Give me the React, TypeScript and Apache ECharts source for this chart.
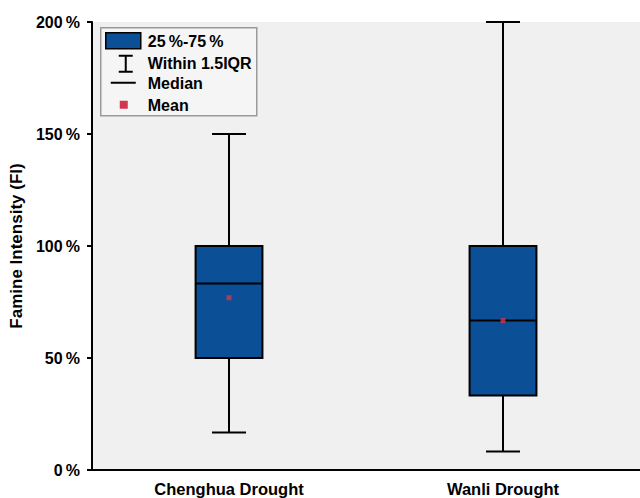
import React, { useEffect, useRef } from "react";
import * as echarts from "echarts";

const categories = ["Chenghua Drought", "Wanli Drought"];
// [low whisker, Q1, median, Q3, high whisker]
const boxValues = [
  [16.7, 50, 83.3, 100, 150],
  [8.3, 33.3, 66.7, 100, 200],
];
const meanValues = [76.9, 66.7];
const yTicks = [0, 50, 100, 150, 200];
const legendLabels = ["25\u2009%-75\u2009%", "Within 1.5IQR", "Median", "Mean"];

const BOX_COLOR = "#0b4f96";
const MEAN_COLOR = "#d3344f";
const FONT = "Liberation Sans, Arial, sans-serif";

export default function App() {
  const ref = useRef<HTMLDivElement>(null);
  useEffect(() => {
    document.body.style.margin = "0";
    const chart = echarts.init(ref.current!, null, { renderer: "svg" });
    const option: any = {
      animation: false,
      backgroundColor: "#ffffff",
      grid: {
        left: 90,
        right: 0,
        top: 22,
        bottom: 28,
        show: true,
        backgroundColor: "#f0f0f0",
        borderWidth: 0,
      },
      xAxis: {
        type: "category",
        data: categories,
        boundaryGap: true,
        axisLine: { lineStyle: { color: "#000", width: 2 } },
        axisTick: { alignWithLabel: true, length: 5, lineStyle: { color: "#000", width: 2 } },
        axisLabel: { color: "#000", fontWeight: "bold", fontSize: 16.5, fontFamily: FONT, margin: 10 },
        splitLine: { show: false },
      },
      yAxis: {
        type: "value",
        min: 0,
        max: 200,
        interval: 50,
        name: "Famine Intensity (FI)",
        nameLocation: "middle",
        nameRotate: 90,
        nameGap: 63,
        nameTextStyle: { color: "#000", fontWeight: "bold", fontSize: 17, fontFamily: FONT },
        axisLine: { show: true, lineStyle: { color: "#000", width: 2 } },
        axisTick: { show: true, length: 5, lineStyle: { color: "#000", width: 2 } },
        axisLabel: {
          color: "#000",
          fontWeight: "bold",
          fontSize: 16,
          fontFamily: FONT,
          margin: 12,
          formatter: (v: number) => (yTicks.includes(v) ? `${v}\u2009%` : ""),
        },
        splitLine: { show: false },
      },
      series: [
        {
          type: "custom",
          data: boxValues.map((b, i) => [i, ...b]),
          encode: { x: 0, y: [1, 2, 3, 4, 5] },
          z: 2,
          renderItem: (params: any, api: any) => {
            const idx = api.value(0);
            const low = api.coord([idx, api.value(1)]);
            const q1 = api.coord([idx, api.value(2)]);
            const med = api.coord([idx, api.value(3)]);
            const q3 = api.coord([idx, api.value(4)]);
            const high = api.coord([idx, api.value(5)]);
            const band = api.size([1, 0])[0];
            const half = band * 0.122;
            const cap = band * 0.062;
            const cx = low[0];
            const ls = { stroke: "#000", lineWidth: 2 };
            return {
              type: "group",
              children: [
                { type: "line", shape: { x1: cx, y1: q1[1], x2: cx, y2: low[1] }, style: ls },
                { type: "line", shape: { x1: cx, y1: q3[1], x2: cx, y2: high[1] }, style: ls },
                { type: "line", shape: { x1: cx - cap, y1: low[1], x2: cx + cap, y2: low[1] }, style: ls },
                { type: "line", shape: { x1: cx - cap, y1: high[1], x2: cx + cap, y2: high[1] }, style: ls },
                {
                  type: "rect",
                  shape: { x: cx - half, y: q3[1], width: half * 2, height: q1[1] - q3[1] },
                  style: { fill: BOX_COLOR, stroke: "#000", lineWidth: 2 },
                },
                { type: "line", shape: { x1: cx - half, y1: med[1], x2: cx + half, y2: med[1] }, style: ls },
              ],
            };
          },
        },
        {
          type: "scatter",
          data: meanValues.map((m, i) => [i, m]),
          symbol: "rect",
          symbolSize: 5,
          z: 5,
          itemStyle: { color: MEAN_COLOR },
        },
      ],
      graphic: [
        {
          type: "group",
          left: 100,
          top: 27,
          children: [
            {
              type: "rect",
              shape: { x: 0, y: 0, width: 156, height: 88 },
              style: { fill: "#f5f5f5", stroke: "#9a9a9a", lineWidth: 1.5 },
            },
            {
              type: "rect",
              shape: { x: 5, y: 5, width: 35, height: 16 },
              style: { fill: BOX_COLOR, stroke: "#000", lineWidth: 1.5 },
            },
            { type: "line", shape: { x1: 25, y1: 28, x2: 25, y2: 44 }, style: { stroke: "#000", lineWidth: 2 } },
            { type: "line", shape: { x1: 18, y1: 28, x2: 32, y2: 28 }, style: { stroke: "#000", lineWidth: 2 } },
            { type: "line", shape: { x1: 18, y1: 44, x2: 32, y2: 44 }, style: { stroke: "#000", lineWidth: 2 } },
            { type: "line", shape: { x1: 10, y1: 55, x2: 35, y2: 55 }, style: { stroke: "#000", lineWidth: 2 } },
            { type: "rect", shape: { x: 19, y: 73, width: 8, height: 8 }, style: { fill: MEAN_COLOR } },
            ...legendLabels.map((t, i) => ({
              type: "text",
              x: 47,
              y: [14, 36, 56, 78][i],
              style: {
                text: t,
                fill: "#000",
                font: `bold 16px ${FONT}`,
                verticalAlign: "middle",
              },
            })),
          ],
        },
      ],
    };
    chart.setOption(option);
    return () => chart.dispose();
  }, []);
  return <div ref={ref} style={{ width: 640, height: 498 }} />;
}
